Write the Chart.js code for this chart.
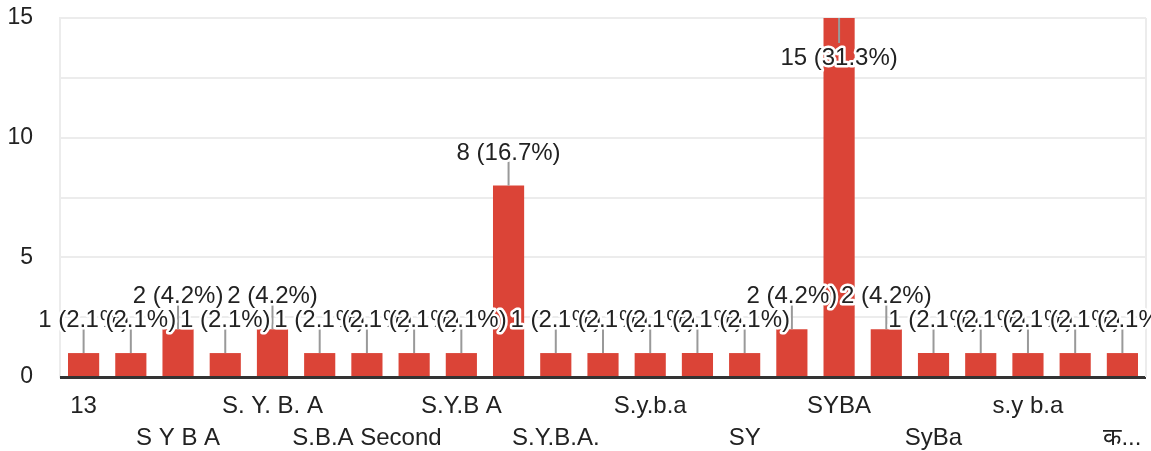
<!DOCTYPE html>
<html>
<head>
<meta charset="utf-8">
<script src="https://cdn.jsdelivr.net/npm/chart.js@4"></script>
<style>
  body { margin: 0; background: #fff; }
  #wrap { width: 1151px; height: 451px; position: relative; }
</style>
</head>
<body>
<div id="wrap"><canvas id="myChart"></canvas></div>
<script>

const categories = [
  '13', 'BA', 'S Y B A', 'S Y BA', 'S. Y. B. A', 'S.B.A', 'S.B.A Second', 'S.Y. B.A',
  'S.Y.B A', 'S.Y.B.A', 'S.Y.B.A.', 'S.Y.BA', 'S.y.b.a', 'S.yBA', 'SY', 'SY BA',
  'SYBA', 'SYBa', 'SyBa', 'Syba', 's.y b.a', 'sy ba', 'क...'
]
const counts = [1, 1, 2, 1, 2, 1, 1, 1, 1, 8, 1, 1, 1, 1, 1, 2, 15, 2, 1, 1, 1, 1, 1]
const yTicks = [0, 5, 10, 15]

const total = counts.reduce((a, b) => a + b, 0)
const FONT = '"Liberation Sans", Arial, sans-serif'

// labels above the bars, with a small grey stick, like google forms does it
const barLabels = {
  id: 'barLabels',
  afterDatasetsDraw(chart) {
    const ctx = chart.ctx
    const area = chart.chartArea
    const bars = chart.getDatasetMeta(0).data
    const spots = []

    ctx.save()
    // baseline
    ctx.strokeStyle = '#333'
    ctx.lineWidth = 3
    ctx.beginPath()
    ctx.moveTo(area.left, area.bottom + 0.5)
    ctx.lineTo(area.right, area.bottom + 0.5)
    ctx.stroke()
    // right border
    ctx.strokeStyle = '#ececec'
    ctx.lineWidth = 2
    ctx.beginPath()
    ctx.moveTo(area.right, area.top)
    ctx.lineTo(area.right, area.bottom)
    ctx.stroke()

    bars.forEach((bar, i) => {
      const top = bar.y
      let y1, y2, base
      if (top - 24 - 20 < area.top) {
        y1 = top; y2 = top + 25; base = top + 47
      } else {
        y1 = top; y2 = top - 24; base = top - 26
      }
      spots.push({ x: bar.x, base: base })
      ctx.strokeStyle = '#999'
      ctx.lineWidth = 2
      ctx.beginPath()
      ctx.moveTo(bar.x, y1)
      ctx.lineTo(bar.x, y2)
      ctx.stroke()
    })

    ctx.font = '24px ' + FONT
    ctx.textAlign = 'center'
    ctx.textBaseline = 'alphabetic'
    ctx.lineJoin = 'round'
    spots.forEach((s, i) => {
      const pct = (counts[i] / total * 100).toFixed(1)
      const txt = counts[i] + ' (' + pct + '%)'
      ctx.strokeStyle = '#fff'
      ctx.lineWidth = 5
      ctx.strokeText(txt, s.x, s.base)
      ctx.fillStyle = '#222'
      ctx.fillText(txt, s.x, s.base)
    })
    ctx.restore()
  }
}

const myChart = new Chart(document.getElementById('myChart'), {
  type: 'bar',
  data: {
    labels: categories,
    datasets: [{
      data: counts,
      backgroundColor: '#db4437',
      barPercentage: 0.66,
      categoryPercentage: 1
    }]
  },
  options: {
    responsive: true,
    maintainAspectRatio: false,
    animation: false,
    layout: { padding: { top: 18, right: 5, left: 0, bottom: 0 } },
    plugins: {
      legend: { display: false },
      tooltip: { enabled: false }
    },
    scales: {
      x: {
        grid: { display: false },
        border: { display: false },
        afterFit(scale) { scale.height = 74; scale.paddingLeft = 0; scale.paddingRight = 0 },
        ticks: {
          autoSkip: false,
          maxRotation: 0,
          padding: 5,
          color: '#222',
          font: { family: FONT, size: 24, lineHeight: 1.35 },
          callback(value, index) {
            if (index % 2) return ''
            const name = categories[index]
            return (index / 2) % 2 ? ['', name] : name
          }
        }
      },
      y: {
        min: 0,
        max: 15,
        afterFit(scale) { scale.width = 60; scale.paddingTop = 0; scale.paddingBottom = 0 },
        grid: { color: '#ececec', lineWidth: 2, drawTicks: false },
        border: { color: '#ececec', width: 2 },
        ticks: {
          stepSize: 2.5,
          padding: 27,
          color: '#222',
          font: { family: FONT, size: 23 },
          callback(v) { return yTicks.includes(v) ? v : '' }
        }
      }
    }
  },
  plugins: [barLabels]
})
</script>
</body>
</html>
